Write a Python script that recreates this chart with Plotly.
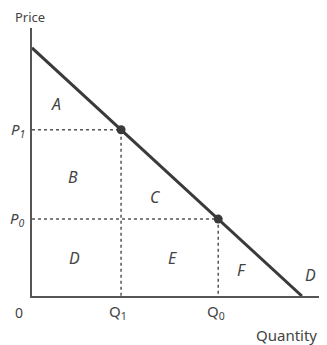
import plotly.graph_objects as go

# demand curve end points
demand_q = [0, 10]
demand_p = [10, 0]

# the two marked points on the demand curve
point_q = [3.3, 6.9]
point_p = [6.7, 3.1]
point_q_names = ["Q<sub>1</sub>", "Q<sub>0</sub>"]
point_p_names = ["P<sub>1</sub>", "P<sub>0</sub>"]

# area letters
area_names = ["A", "B", "C", "D", "E", "F"]
area_q = [0.89, 1.52, 4.56, 1.59, 5.19, 7.78]
area_p = [7.74, 4.8, 4.0, 1.53, 1.53, 1.05]

ink = "#3a3a3a"
font = "Noto Sans"
txt = "#444"

fig = go.Figure()

# dotted guides from each point to the axes
for q, p in zip(point_q, point_p):
    fig.add_trace(go.Scatter(
        x=[0, q, q], y=[p, p, 0], mode="lines",
        line=dict(color="#555", width=1.5, dash="dot"),
        hoverinfo="skip", showlegend=False,
    ))

fig.add_trace(go.Scatter(
    x=demand_q, y=demand_p, mode="lines",
    line=dict(color=ink, width=3), showlegend=False,
))
fig.add_trace(go.Scatter(
    x=point_q, y=point_p, mode="markers",
    marker=dict(color=ink, size=9), showlegend=False,
))

# letters inside the areas
for name, q, p in zip(area_names, area_q, area_p):
    fig.add_annotation(x=q, y=p, text="<i>" + name + "</i>", showarrow=False,
                       font=dict(size=16, color=txt, family=font))

# demand label
fig.add_annotation(x=10.33, y=0.85, text="<i>D</i>", showarrow=False,
                   font=dict(size=16, color=txt, family=font))

# price labels on the y axis
for name, p in zip(point_p_names, point_p):
    fig.add_annotation(xref="paper", x=-0.017, xanchor="right", yanchor="middle", y=p,
                       text="<i>" + name + "</i>",
                       showarrow=False, font=dict(size=15, color=txt, family=font))

# quantity labels under the x axis
for name, q in zip(point_q_names, point_q):
    fig.add_annotation(x=q - 0.1, yref="paper", y=-0.06, xanchor="center", yanchor="middle",
                       text=name, showarrow=False, font=dict(size=15, color=txt, family=font))

fig.add_annotation(xref="paper", yref="paper", x=-0.044, y=-0.06, text="0",
                   xanchor="center", yanchor="middle",
                   showarrow=False, font=dict(size=14, color=txt, family=font))
fig.add_annotation(xref="paper", yref="paper", x=0.864, y=-0.146, text="Quantity",
                   xanchor="center", yanchor="middle",
                   showarrow=False, font=dict(size=15, color=txt, family=font))
fig.add_annotation(xref="paper", yref="paper", x=-0.007, y=1.04, text="Price",
                   xanchor="center", yanchor="middle",
                   showarrow=False, font=dict(size=13, color=txt, family=font))

fig.update_xaxes(range=[0, 10.93], showgrid=False, zeroline=False, showticklabels=False,
                 ticks="", showline=True, linecolor="#555", linewidth=2)
fig.update_yaxes(range=[0, 10.8], showgrid=False, zeroline=False, showticklabels=False,
                 ticks="", showline=True, linecolor="#555", linewidth=2)

# page body has an 8px margin, so the figure is shrunk to fit the window
fig.update_layout(
    width=319, height=337,
    margin=dict(l=24, r=0, t=20, b=49),
    plot_bgcolor="white", paper_bgcolor="white",
)

fig.write_html("out.html")
